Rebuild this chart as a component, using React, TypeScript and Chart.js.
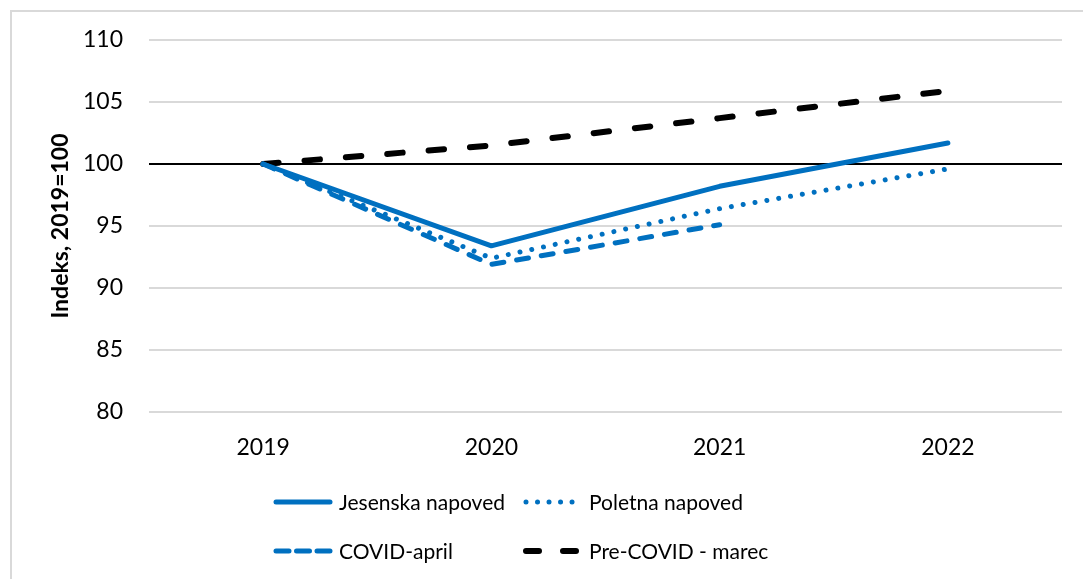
import React, { useEffect, useRef } from 'react';
import { Chart, registerables } from 'chart.js';

Chart.register(...registerables);

const years = ['2019', '2020', '2021', '2022'];
const jesenska = [100, 93.4, 98.2, 101.7];
const poletna = [100, 92.4, 96.4, 99.6];
const covidApril: (number | null)[] = [100, 91.9, 95.1, null];
const preCovid = [100, 101.5, 103.7, 105.9];
const seriesNames = ['Jesenska napoved', 'Poletna napoved', 'COVID-april', 'Pre-COVID - marec'];
const yMin = 80;
const yMax = 110;
const yStep = 5;
const yTitle = 'Indeks, 2019=100';

const FONT = 'Lato, "Noto Sans", sans-serif';
const BLUE = '#0070C0';

const legendDashes = [[], [0.01, 11.5], [13, 7.5], [13, 24]];

const legendPlugin = {
  id: 'customLegend',
  afterDraw(chart: any) {
    const ctx = chart.ctx as CanvasRenderingContext2D;
    const pos = [
      { x: 273, y: 502 },
      { x: 523, y: 502 },
      { x: 273, y: 551 },
      { x: 523, y: 551 },
    ];
    chart.data.datasets.forEach((ds: any, i: number) => {
      const p = pos[i];
      ctx.save();
      ctx.strokeStyle = ds.borderColor;
      ctx.lineWidth = ds.borderWidth;
      ctx.lineCap = 'round';
      ctx.setLineDash(legendDashes[i]);
      ctx.beginPath();
      ctx.moveTo(p.x + 3, p.y);
      ctx.lineTo(p.x + 57, p.y);
      ctx.stroke();
      ctx.setLineDash([]);
      ctx.fillStyle = '#000';
      ctx.font = `21px ${FONT}`;
      ctx.textBaseline = 'middle';
      ctx.textAlign = 'left';
      ctx.fillText(ds.label, p.x + 66, p.y + 1);
      ctx.restore();
    });
  },
};

export default function App() {
  const ref = useRef<HTMLCanvasElement>(null);
  useEffect(() => {
    Chart.defaults.font.family = FONT;
    const chart = new Chart(ref.current as HTMLCanvasElement, {
      type: 'line',
      data: {
        labels: years,
        datasets: [
          {
            label: seriesNames[0],
            data: jesenska,
            borderColor: BLUE,
            backgroundColor: BLUE,
            borderWidth: 5,
            borderCapStyle: 'round',
            borderJoinStyle: 'round',
          },
          {
            label: seriesNames[1],
            data: poletna,
            borderColor: BLUE,
            backgroundColor: BLUE,
            borderWidth: 5,
            borderDash: [0.01, 12],
            borderCapStyle: 'round',
            borderJoinStyle: 'round',
          },
          {
            label: seriesNames[2],
            data: covidApril,
            borderColor: BLUE,
            backgroundColor: BLUE,
            borderWidth: 5,
            borderDash: [12, 13],
            borderCapStyle: 'round',
            borderJoinStyle: 'round',
          },
          {
            label: seriesNames[3],
            data: preCovid,
            borderColor: '#000',
            backgroundColor: '#000',
            borderWidth: 6,
            borderDash: [15.5, 26],
            borderCapStyle: 'round',
            borderJoinStyle: 'round',
          },
        ],
      },
      options: {
        responsive: false,
        animation: false,
        devicePixelRatio: 1,
        layout: { padding: { left: 0, top: 40, right: 21, bottom: 117 } },
        elements: { point: { radius: 0, hoverRadius: 0 }, line: { tension: 0 } },
        plugins: { legend: { display: false }, tooltip: { enabled: false }, title: { display: false } },
        scales: {
          x: {
            type: 'category',
            offset: true,
            grid: { display: false, drawTicks: false },
            border: { display: false },
            ticks: { color: '#000', font: { size: 23 }, padding: 22, maxRotation: 0 },
            afterFit: (s: any) => {
              s.height = 50;
            },
          },
          y: {
            min: yMin,
            max: yMax,
            grid: {
              drawTicks: false,
              color: (c: any) => (c.tick && c.tick.value === 100 ? '#000' : '#d9d9d9'),
              lineWidth: 2,
            },
            border: { display: false },
            ticks: { stepSize: yStep, color: '#000', font: { size: 23 }, padding: 26 },
            title: {
              display: true,
              text: yTitle,
              color: '#000',
              font: { size: 23, weight: 'bold' },
              padding: { top: 47, bottom: 0 },
            },
            afterFit: (s: any) => {
              s.width = 149;
            },
          },
        },
      },
      plugins: [legendPlugin],
    } as any);
    return () => chart.destroy();
  }, []);
  return (
    <div
      style={{
        position: 'absolute',
        left: 0,
        top: 0,
        width: 1083,
        height: 579,
        overflow: 'hidden',
        background: '#fff',
      }}
    >
      <div
        style={{
          position: 'absolute',
          left: 10,
          top: 10,
          width: 1100,
          height: 600,
          border: '2px solid #d9d9d9',
          boxSizing: 'border-box',
        }}
      />
      <canvas
        ref={ref}
        width={1083}
        height={579}
        style={{ position: 'absolute', left: 0, top: 0, width: 1083, height: 579 }}
      />
    </div>
  );
}
